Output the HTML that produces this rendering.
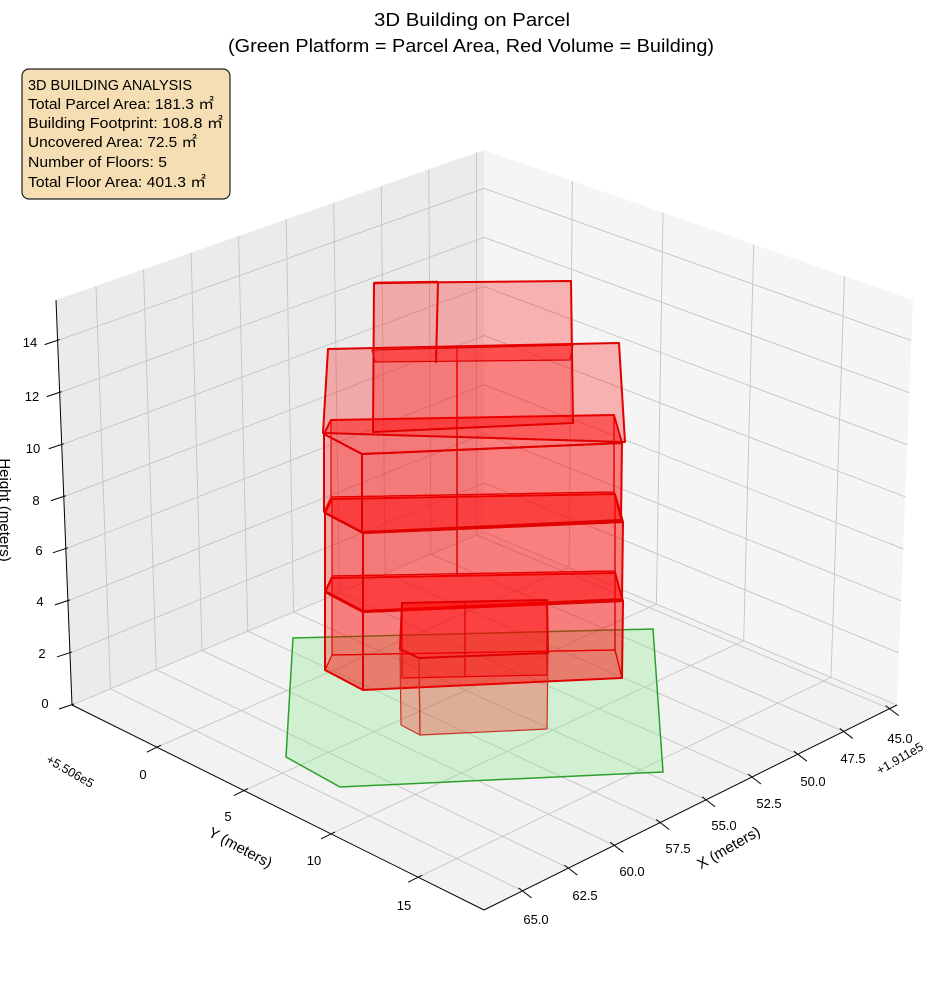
<!DOCTYPE html>
<html><head><meta charset="utf-8">
<style>
html,body{margin:0;padding:0;background:#fff;}
svg{display:block;font-family:"Liberation Sans","Noto Sans CJK JP",sans-serif;}
</style></head>
<body>
<svg id="s" width="944" height="992" viewBox="0 0 944 992" xmlns="http://www.w3.org/2000/svg">
<rect width="944" height="992" fill="#fff"/>
<polygon points="484,532 72,705 484,910 897,705" fill="#f2f2f2"/>
<polygon points="484,532 72,705 56,300 484,150" fill="#ebebeb"/>
<polygon points="484,532 897,705 913,300 484,150" fill="#f5f5f5"/>
<g id="grid" stroke="#c4c4c4" stroke-width="0.9" fill="none"></g>
<g id="axes" stroke="#000" stroke-width="1" fill="none"></g>

<polygon points="293,638 653,629 663,772 340,787 286,757" fill="rgba(144,238,144,0.33)" stroke="#2ca02c" stroke-width="1.5"/>

<g stroke="#e00000" stroke-width="2" stroke-linejoin="round" fill="rgba(255,0,0,0.28)">
  <g id="fl0">
    <polygon points="332,655 615,650 615,573 332,578" stroke-width="1.2"/>
    <polygon points="325,670 363,690 622,678 615,650 332,655" stroke-width="1.2"/>
    <polygon points="325,670 363,690 363,612 325,592"/>
    <polygon points="363,690 622,678 623,601 363,612"/>
    <polygon points="622,678 615,650 615,573 623,601" stroke-width="1.2"/>
    <polygon points="325,592 363,612 623,601 615,573 332,578"/>
  </g>
  <use href="#fl0" transform="translate(0,-79)"/>
  <use href="#fl0" transform="translate(-1,-158)"/>
  <line x1="457" y1="347" x2="457" y2="575" stroke-width="1.5"/>
  <polygon points="323,433 328,349 619,343 625,442"/>
  <polygon points="373,432 374,283 571,281 573,423"/>
  <polygon points="372,350 573,345 570,360 375,362" fill="rgba(255,30,30,0.5)" stroke-width="1.2"/>
  <line x1="438" y1="282" x2="436" y2="363"/>
  <line x1="374" y1="283" x2="438" y2="282" stroke-width="2.5"/>
  <polygon points="402,603 547,600 547,675 402,678" stroke-width="1.2"/>
  <polygon points="400,649 419,658 420,735 401,725" stroke-width="1.2" stroke="#c83020"/>
  <polygon points="419,658 548,653 547,729 420,735" stroke-width="1.2" stroke="#c83020"/>
  <polygon points="400,649 419,658 548,653 547,600 402,603"/>
  <line x1="465" y1="603" x2="465" y2="677" stroke-width="1.2"/>
</g>

<text x="472" y="26" font-size="18" text-anchor="middle" textLength="196" lengthAdjust="spacingAndGlyphs">3D Building on Parcel</text>
<text x="471" y="52" font-size="18" text-anchor="middle" textLength="486" lengthAdjust="spacingAndGlyphs">(Green Platform = Parcel Area, Red Volume = Building)</text>

<rect x="22" y="69" width="208" height="130" rx="7" fill="#f5deb3" stroke="#222" stroke-width="1.2"/>
<g font-size="14.5" fill="#000">
<text x="28" y="90" textLength="164" lengthAdjust="spacingAndGlyphs">3D BUILDING ANALYSIS</text>
<text x="28" y="109" textLength="186" lengthAdjust="spacingAndGlyphs">Total Parcel Area: 181.3 ㎡</text>
<text x="28" y="128" textLength="195" lengthAdjust="spacingAndGlyphs">Building Footprint: 108.8 ㎡</text>
<text x="28" y="147" textLength="169" lengthAdjust="spacingAndGlyphs">Uncovered Area: 72.5 ㎡</text>
<text x="28" y="167" textLength="139" lengthAdjust="spacingAndGlyphs">Number of Floors: 5</text>
<text x="28" y="187" textLength="178" lengthAdjust="spacingAndGlyphs">Total Floor Area: 401.3 ㎡</text>
</g>

<g font-size="13" fill="#000" text-anchor="middle">
<text x="900" y="743">45.0</text><text x="853" y="763">47.5</text><text x="813" y="786">50.0</text>
<text x="769" y="808">52.5</text><text x="724" y="830">55.0</text><text x="678" y="853">57.5</text>
<text x="632" y="876">60.0</text><text x="585" y="900">62.5</text><text x="536" y="924">65.0</text>
<text transform="translate(902,762) rotate(-30)" font-size="12.5">+1.911e5</text>
<text transform="translate(731,852) rotate(-30)" font-size="15">X (meters)</text>
<text x="143" y="779">0</text><text x="228" y="821">5</text><text x="314" y="865">10</text><text x="404" y="910">15</text>
<text transform="translate(68,775) rotate(30)" font-size="12.5">+5.506e5</text>
<text transform="translate(238,852) rotate(28)" font-size="15">Y (meters)</text>
<text x="30" y="347">14</text><text x="32" y="401">12</text><text x="33" y="453">10</text><text x="36" y="505">8</text>
<text x="39" y="555">6</text><text x="40" y="606">4</text><text x="42" y="658">2</text><text x="45" y="708">0</text>
<text transform="translate(0,510) rotate(90)" font-size="15">Height (meters)</text>
</g>

<script>
(function(){
var c={"000":[484,532],"100":[72,705],"010":[897,705],"110":[484,910],
"001":[484,150],"101":[56,300],"011":[913,300],"111":[484,482]};
function P(a,b,z){var r=[0,0];
 for(var i=0;i<2;i++)for(var j=0;j<2;j++)for(var k=0;k<2;k++){
  var w=(i?a:1-a)*(j?b:1-b)*(k?z:1-z);var p=c[""+i+j+k];r[0]+=w*p[0];r[1]+=w*p[1];}
 return r;}
function fx(x){return (x-44.6)/22.5;} function fy(y){return (y+4.87)/23.65;} function fz(z){return z/15.56;}
var NS="http://www.w3.org/2000/svg";
function L(g,p,q){var e=document.createElementNS(NS,"line");e.setAttribute("x1",p[0]);e.setAttribute("y1",p[1]);e.setAttribute("x2",q[0]);e.setAttribute("y2",q[1]);g.appendChild(e);}
var g=document.getElementById("grid"),ax=document.getElementById("axes");
for(var x=45;x<=65.01;x+=2.5){var a=fx(x);L(g,P(a,0,0),P(a,1,0));L(g,P(a,0,0),P(a,0,1));}
for(var y=0;y<=15;y+=5){var b=fy(y);L(g,P(0,b,0),P(1,b,0));L(g,P(0,b,0),P(0,b,1));}
for(var z=0;z<=14;z+=2){var h=fz(z);L(g,P(1,0,h),P(0,0,h));L(g,P(0,0,h),P(0,1,h));}
L(ax,c["100"],c["101"]);L(ax,c["100"],c["110"]);L(ax,c["110"],c["010"]);
for(var z=0;z<=14;z+=2){var p=P(1,0,fz(z));L(ax,[p[0]-13,p[1]+4],[p[0]+2,p[1]-1]);}
for(var x=45;x<=65.01;x+=2.5){var p=P(fx(x),1,0);L(ax,[p[0]-4,p[1]-3],[p[0]+9,p[1]+7]);}
for(var y=0;y<=15;y+=5){var p=P(1,fy(y),0);L(ax,[p[0]+4,p[1]-2],[p[0]-10,p[1]+5]);}
})();
</script>
</svg>
</body></html>
